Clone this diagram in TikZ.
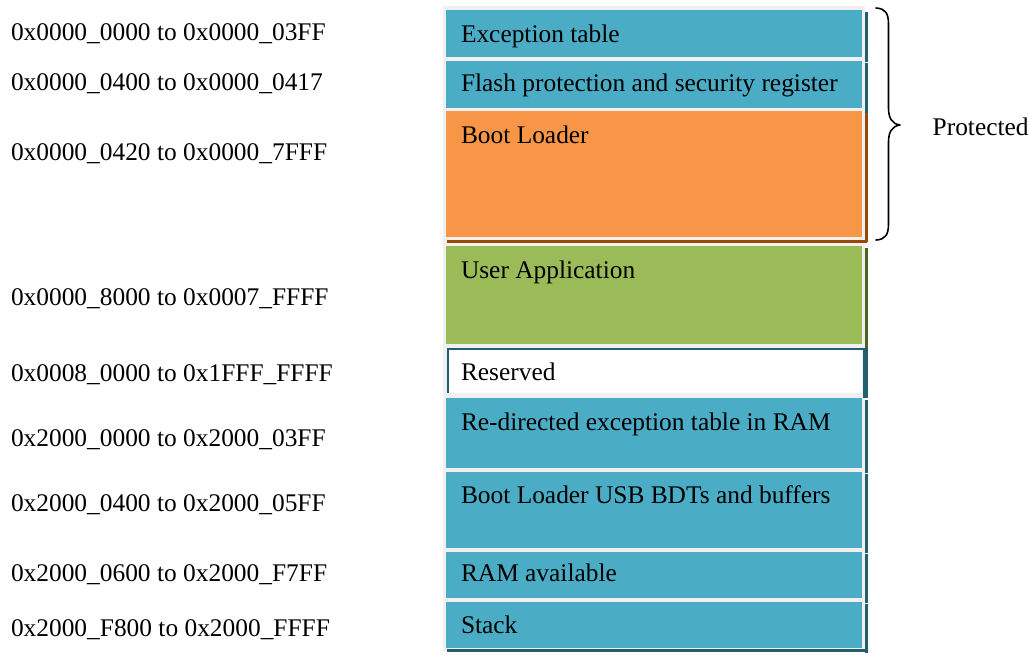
\documentclass[tikz,border=0pt]{standalone}
\usepackage{fontspec}
\setmainfont{Liberation Serif}
\definecolor{accblue}{HTML}{4BACC6}
\definecolor{accorange}{HTML}{F79646}
\definecolor{accgreen}{HTML}{9BBB59}
\definecolor{shblue}{HTML}{245F70}
\definecolor{shorange}{HTML}{984807}
\definecolor{shgreen}{HTML}{4F6228}
\definecolor{gapgray}{HTML}{F0F0F0}
\begin{document}
\begin{tikzpicture}[x=1pt,y=-1pt,
  mem/.style={rectangle, inner sep=0pt, outer sep=0pt, anchor=north west,
              minimum width=416pt},
  txt/.style={anchor=base west, inner sep=0pt, outer sep=0pt,
              font=\fontsize{25.4}{30}\selectfont},
  bracepen/.style={line width=1.6pt, line cap=round, line join=round}
]
\useasboundingbox (0,0) rectangle (1029,654);

% light frame behind the memory column
\fill[gapgray] (443,6) rectangle (865,651);

% memory regions
\node[mem, fill=accblue,   minimum height=47pt] (exc)  at (446,10)  {};
\node[mem, fill=accblue,   minimum height=47pt] (fps)  at (446,61)  {};
\node[mem, fill=accorange, minimum height=126pt] (boot) at (446,111) {};
\node[mem, fill=accgreen,  minimum height=98pt] (app)  at (446,246) {};
\node[mem, fill=white, minimum width=414pt, minimum height=43pt] (res) at (448,350) {};
\node[mem, fill=accblue,   minimum height=70pt] (rram) at (446,398) {};
\node[mem, fill=accblue,   minimum height=76pt] (usb)  at (446,472) {};
\node[mem, fill=accblue,   minimum height=46pt] (ram)  at (446,552) {};
\node[mem, fill=accblue,   minimum height=46pt] (stk)  at (446,602) {};

% dark edges on the right of each region
\foreach \b/\c in {exc/shblue, fps/shblue, boot/shorange, app/shgreen,
                   rram/shblue, usb/shblue, ram/shblue, stk/shblue}
  \fill[\c] ([shift={(3,2)}]\b.north east) rectangle ([shift={(6,5)}]\b.south east);
\fill[shorange] ([shift={(1,3)}]boot.south west) rectangle ([shift={(5,6)}]boot.south east);
\fill[shblue] ([shift={(1,1)}]stk.south west) rectangle ([shift={(6,4)}]stk.south east);
\fill[shblue] ([shift={(-1,-2)}]res.north west) rectangle ([shift={(6,0)}]res.north east);
\fill[shblue] ([shift={(-1,-2)}]res.north west) rectangle ([shift={(1,0)}]res.south west);
\fill[shblue] ([shift={(1,-2)}]res.north east) rectangle ([shift={(6,5)}]res.south east);

% region names
\node[txt] (texc)  at (461,42.7)  {Exception table};
\node[txt] (tfps)  at (461,91.7)  {Flash protection and security register};
\node[txt] (tboot) at (461,143.3) {Boot Loader};
\node[txt] (tapp)  at (461,278)   {User Application};
\node[txt] (tres)  at (461,380)   {Reserved};
\node[txt] (trram) at (461,430)   {Re-directed exception table in RAM};
\node[txt] (tusb)  at (461,503)   {Boot Loader USB BDTs and buffers};
\node[txt] (tram)  at (461,581.7) {RAM available};
\node[txt] (tstk)  at (461,633)   {Stack};

% address ranges
\node[txt] (a1) at (11,40)    {0x0000\_0000 to 0x0000\_03FF};
\node[txt] (a2) at (11,90)    {0x0000\_0400 to 0x0000\_0417};
\node[txt] (a3) at (11,160)   {0x0000\_0420 to 0x0000\_7FFF};
\node[txt] (a4) at (11,305)   {0x0000\_8000 to 0x0007\_FFFF};
\node[txt] (a5) at (11,381.7) {0x0008\_0000 to 0x1FFF\_FFFF};
\node[txt] (a6) at (11,446.7) {0x2000\_0000 to 0x2000\_03FF};
\node[txt] (a7) at (11,511.7) {0x2000\_0400 to 0x2000\_05FF};
\node[txt] (a8) at (11,581.7) {0x2000\_0600 to 0x2000\_F7FF};
\node[txt] (a9) at (11,636.7) {0x2000\_F800 to 0x2000\_FFFF};

% brace over the protected flash area
\coordinate (bt) at (876,8);
\coordinate (bm) at (900,125);
\coordinate (bb) at (876,240);
\draw[bracepen] (bt) .. controls (885,8.5) and (888.5,13) .. (888.5,24)
  -- (888.5,108) .. controls (888.5,118) and (892,124) .. (bm)
  .. controls (892,126) and (888.5,132) .. (888.5,142)
  -- (888.5,224) .. controls (888.5,235) and (885,239.5) .. (bb);
\node[txt] (prot) at (932.7,135) {Protected};
\end{tikzpicture}
\end{document}
